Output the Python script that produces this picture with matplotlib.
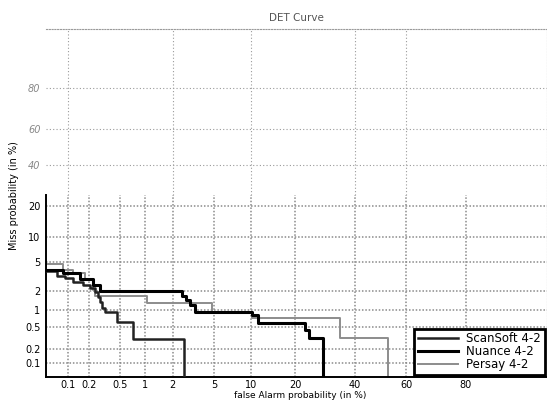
import math
from statistics import NormalDist
import numpy as np
import matplotlib
matplotlib.use('Agg')
import matplotlib.pyplot as plt

# Tick values (in %) shared by both axes
tick_values = [0.1, 0.2, 0.5, 1, 2, 5, 10, 20, 40, 60, 80]
tick_labels = ['0.1', '0.2', '0.5', '1', '2', '5', '10', '20', '40', '60', '80']

# DET curves: false alarm (%) and miss (%) at each step corner
scansoft_fa = [0.03, 0.069, 0.090, 0.118, 0.164, 0.205, 0.239, 0.261, 0.278, 0.295, 0.323, 0.458, 0.72, 2.6]
scansoft_miss = [3.84, 3.28, 3.07, 2.70, 2.44, 2.2, 1.92, 1.6, 1.35, 1.08, 0.92, 0.62, 0.31, 0.001]

nuance_fa = [0.03, 0.084, 0.148, 0.224, 0.278, 2.47, 2.72, 2.98, 3.3, 10.2, 11.2, 22.7, 23.8, 28.4]
nuance_miss = [4.0, 3.6, 3.0, 2.44, 2.0, 1.67, 1.45, 1.2, 0.92, 0.82, 0.60, 0.45, 0.32, 0.001]

persay_fa = [0.03, 0.084, 0.118, 0.174, 0.224, 0.239, 1.05, 4.8, 10.2, 34.4, 52.9]
persay_miss = [4.75, 3.96, 3.6, 3.0, 2.06, 1.67, 1.30, 0.92, 0.72, 0.32, 0.001]

nd = NormalDist()
_ppf = np.vectorize(nd.inv_cdf, otypes=[float])
_cdf = np.vectorize(lambda v: 50.0 * (1 + math.erf(v / math.sqrt(2))), otypes=[float])


def probit(p):
    p = np.clip(np.asarray(p, dtype=float) / 100.0, 1e-9, 1 - 1e-9)
    return _ppf(p)


def inv_probit(z):
    return _cdf(np.asarray(z, dtype=float))


fig = plt.figure(figsize=(5.47, 4.01), dpi=100)
ax = fig.add_axes([46 / 547, 24 / 401, 501 / 547, 348 / 401])
ax.set_xscale('function', functions=(probit, inv_probit))
ax.set_yscale('function', functions=(probit, inv_probit))
ax.set_xlim(0.047, 95)
ax.set_ylim(0.051, 95.4)

# grid: full set of lines below 25 %, only some above it
split = 24.6
for v in tick_values:
    ax.vlines(v, 0.051, split, colors='#8a8a8a', linestyles=(0, (1, 1.2)), lw=1.1, zorder=1)
for v in [0.1, 2, 10, 40, 60]:
    ax.vlines(v, split, 95.4, colors='#9a9a9a', linestyles=(0, (1, 2)), lw=0.8, zorder=1)
for v in tick_values[:8]:
    ax.hlines(v, 0.047, 95, colors='#8a8a8a', linestyles=(0, (1, 1.2)), lw=1.1, zorder=1)
for v in tick_values[8:]:
    ax.hlines(v, 0.047, 95, colors='#9a9a9a', linestyles=(0, (1, 2)), lw=0.8, zorder=1)

ax.plot(scansoft_fa, scansoft_miss, drawstyle='steps-post', color='#222222', lw=1.8,
        label='ScanSoft 4-2', zorder=3)
ax.plot(nuance_fa, nuance_miss, drawstyle='steps-post', color='black', lw=2.2,
        label='Nuance 4-2', zorder=4)
ax.plot(persay_fa, persay_miss, drawstyle='steps-post', color='#8c8c8c', lw=1.4,
        label='Persay 4-2', zorder=2)

ax.set_xticks(tick_values)
ax.set_xticklabels(tick_labels)
ax.set_yticks(tick_values)
ax.set_yticklabels(tick_labels)
ax.minorticks_off()
ax.tick_params(axis='x', length=0, labelsize=7, pad=2)
ax.tick_params(axis='y', length=0, labelsize=7, pad=4)
for lab in ax.get_yticklabels()[8:]:
    lab.set_color('#888888')
    lab.set_style('italic')

ax.spines['left'].set_bounds(0.051, split)
ax.spines['left'].set_linewidth(1.4)
ax.spines['bottom'].set_linewidth(1.4)
for side in ['top', 'right']:
    ax.spines[side].set_linestyle((0, (1, 1.5)))
    ax.spines[side].set_color('#9a9a9a')
    ax.spines[side].set_linewidth(0.8)

ax.set_title('DET Curve', fontsize=7.5, color='#555555', pad=6)
fig.text(300 / 547, 5 / 401, 'false Alarm probability (in %)', ha='center', va='center',
         fontsize=6.5)
fig.text(14 / 547, 205 / 401, 'Miss probability (in %)', ha='center', va='center',
         rotation=90, fontsize=7)

leg = ax.legend(loc='lower right', fontsize=8.5, fancybox=False, framealpha=1,
                edgecolor='black', handlelength=3.4, handletextpad=0.7,
                borderaxespad=0.2, labelspacing=0.0, borderpad=0.3)
leg.get_frame().set_linewidth(2)

fig.savefig('out.png', dpi=100)
